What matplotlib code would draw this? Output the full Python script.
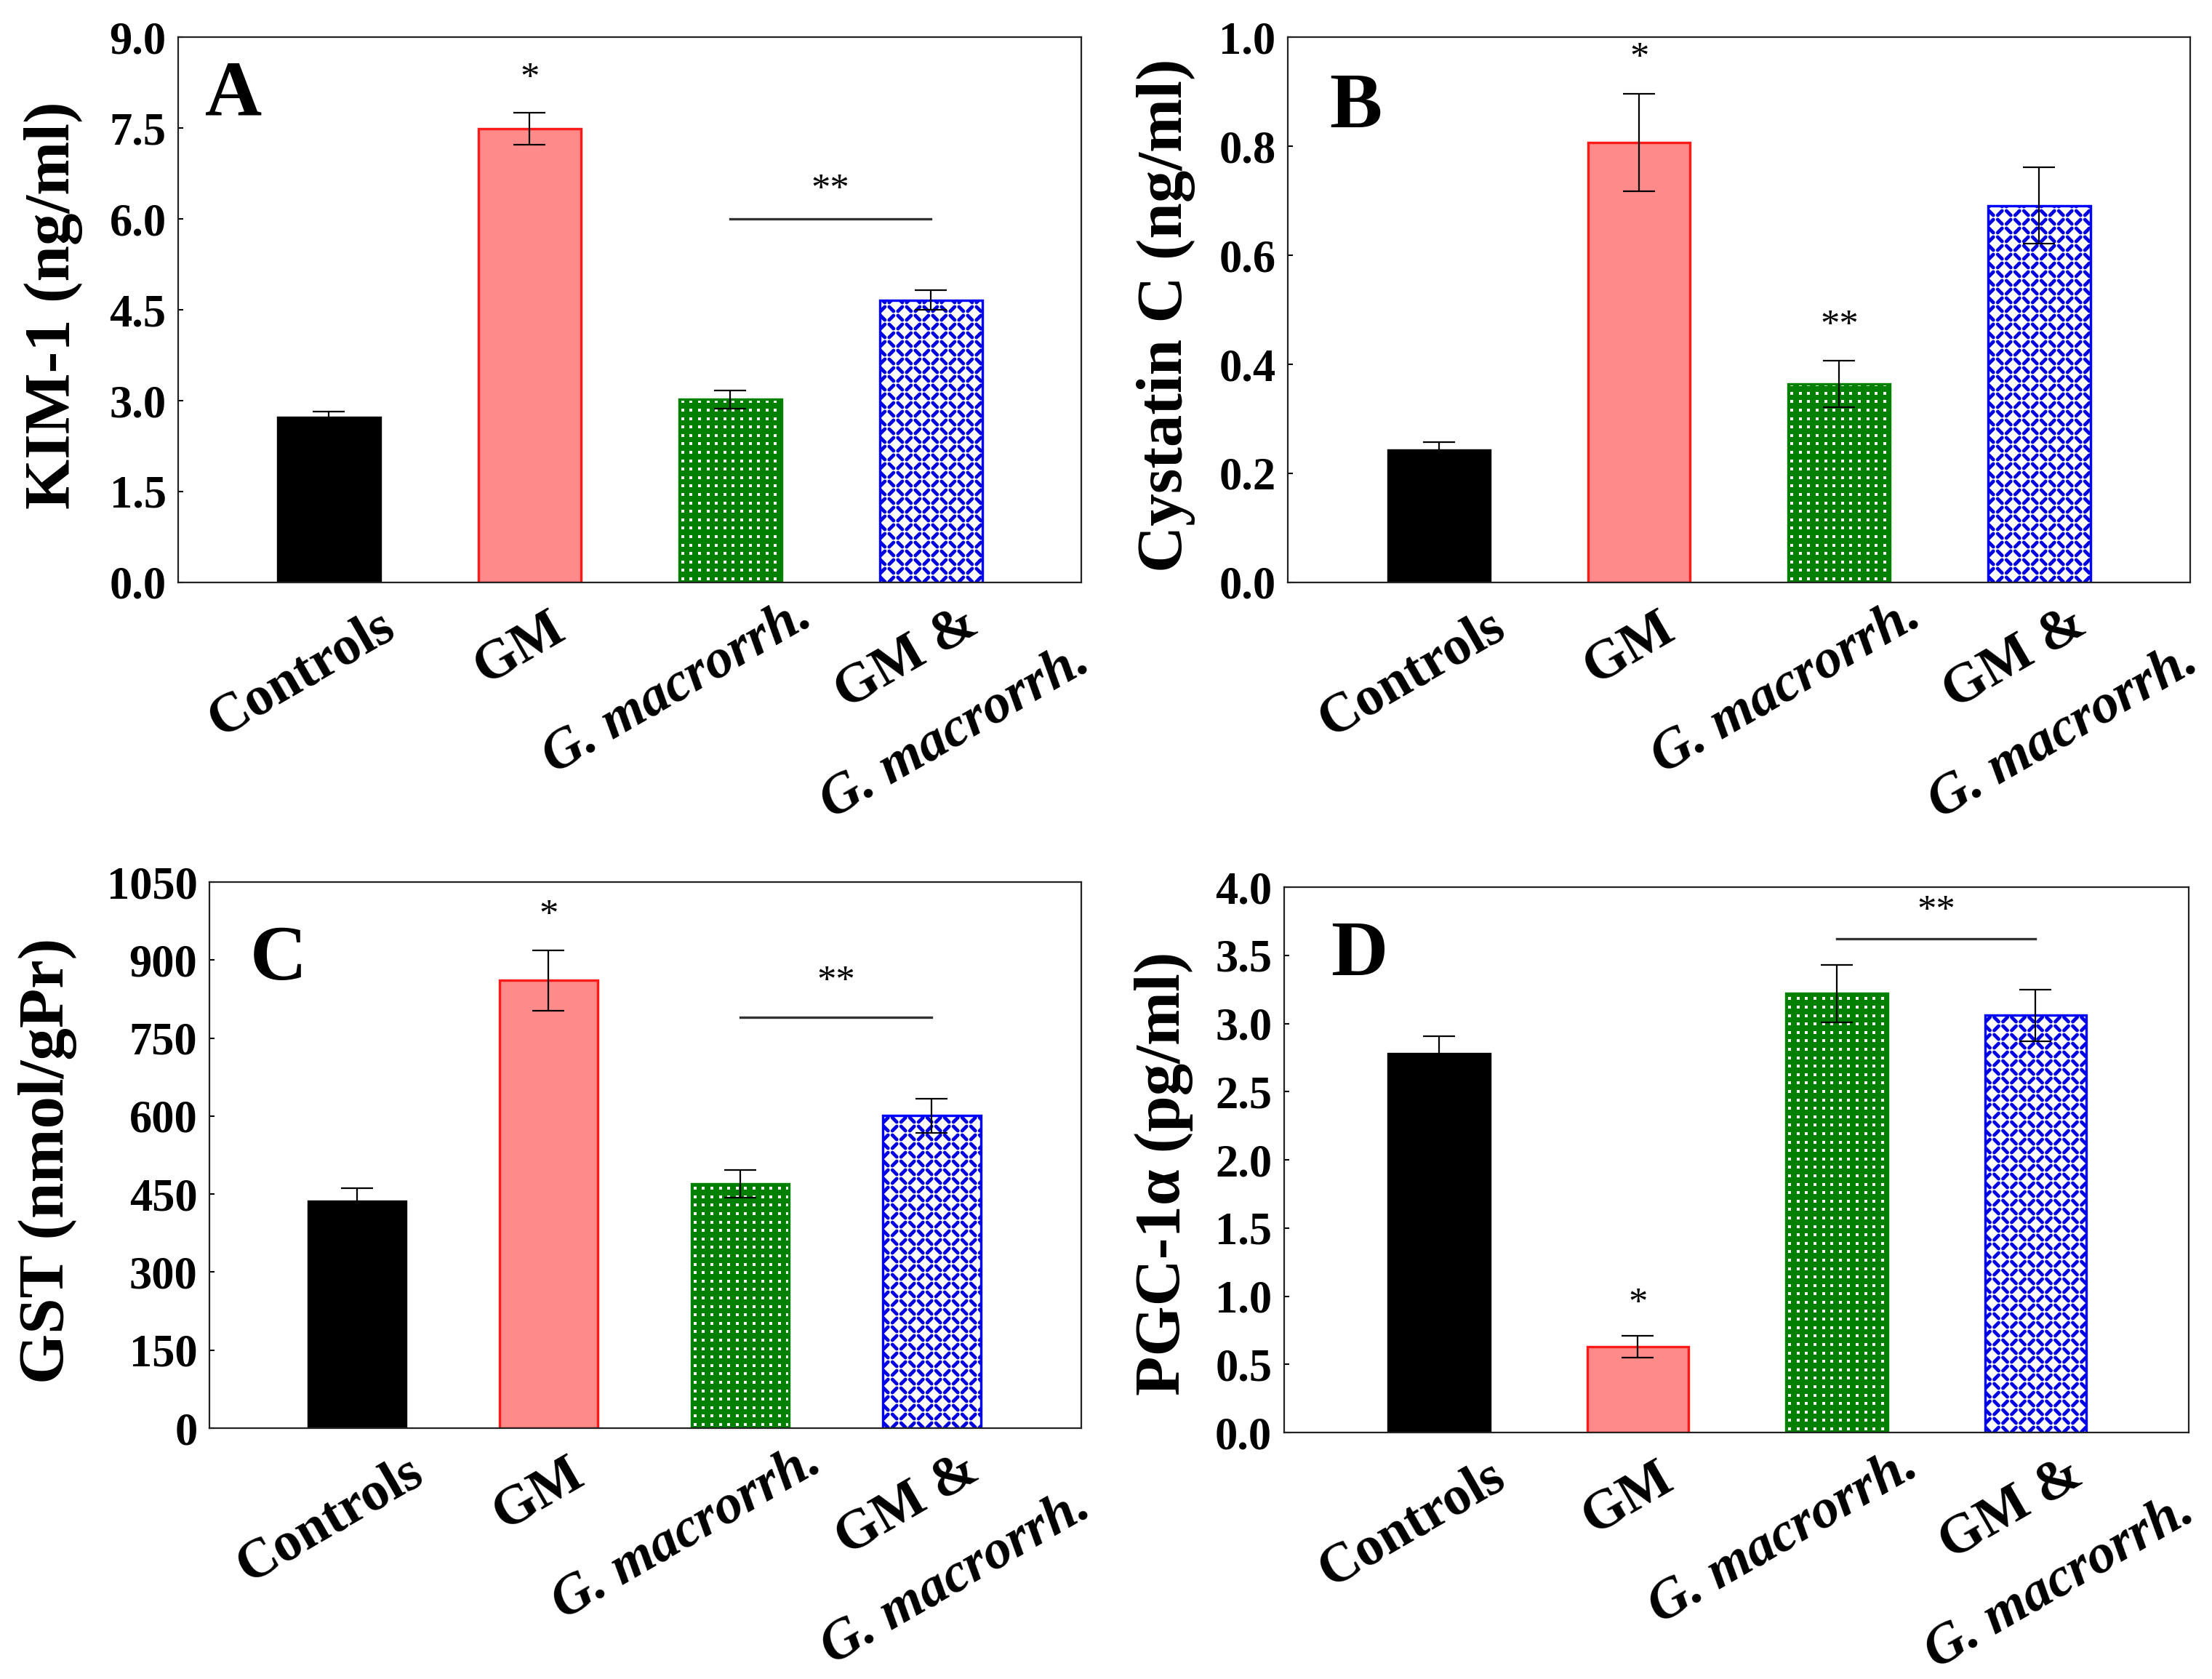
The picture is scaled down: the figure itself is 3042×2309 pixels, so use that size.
import numpy as np
import matplotlib
matplotlib.use("Agg")
import matplotlib.pyplot as plt
from matplotlib.collections import LineCollection
from matplotlib.transforms import ScaledTranslation, blended_transform_factory

plt.rcParams["font.family"] = ["Liberation Serif", "DejaVu Serif"]

# ---- data ----
groups = ["Controls", "GM", "G. macrorrh.", "GM &\nG. macrorrh."]

kim1 = [2.72, 7.49, 3.02, 4.66]
kim1_err = [0.10, 0.26, 0.15, 0.16]

cystatin = [0.243, 0.807, 0.364, 0.691]
cystatin_err = [0.015, 0.089, 0.043, 0.070]

gst = [437, 861, 470, 601]
gst_err = [24, 58, 27, 33]

pgc = [2.78, 0.63, 3.22, 3.06]
pgc_err = [0.125, 0.08, 0.21, 0.19]

# single stars: (bar index, y)
star_A = [(1, 8.3)]
star_B = [(1, 0.96)]
star_C = [(1, 985)]
star_D = [(1, 0.94)]
# double stars: (from bar, to bar, line y or None, text y)
dstar_A = [(2, 3, 6.0, 6.47)]
dstar_B = [(2, 2, None, 0.47)]
dstar_C = [(2, 3, 790, 857)]
dstar_D = [(2, 3, 3.62, 3.82)]

yticks_A = np.arange(0, 9.01, 1.5)
yticks_B = np.arange(0, 1.01, 0.2)
yticks_C = np.arange(0, 1051, 150)
yticks_D = np.arange(0, 4.01, 0.5)

# ---- styling ----
face = ["black", "#ff8a8a", "#008000", "white"]
edge = ["black", "#ff1a1a", "#008000", "#0000ff"]
texture_kind = [None, None, "dots", "weave"]

# label centre offsets below the axis, pixels (dx, dy)
label_off = [[(-37, 126)], [(-14, 91)], [(-73, 144)], [(-33, 105), (33, 206)]]

fig = plt.figure(figsize=(30.42, 23.09), dpi=100)


def add_texture(ax, bar, kind):
    x0, y0 = ax.transData.transform((bar.get_x(), 0))
    x1, y1 = ax.transData.transform((bar.get_x() + bar.get_width(), bar.get_height()))
    inv = ax.transData.inverted()
    if kind == "dots":
        step = 11.6
        xs = np.arange(x0 + 5, x1, step)
        ys = np.arange(y0 + 5, y1 + step, step)
        gx, gy = np.meshgrid(xs, ys)
        pts = inv.transform(np.column_stack([gx.ravel(), gy.ravel()]))
        sc = ax.scatter(pts[:, 0], pts[:, 1], s=12, marker="s", c="white",
                        linewidths=0, zorder=2.2)
        sc.set_clip_path(bar)
    elif kind == "weave":
        step = 12
        h = 3.0
        segs = []
        for i, xc in enumerate(np.arange(x0 + 4, x1 + step, step)):
            for j, yc in enumerate(np.arange(y0 + 4, y1 + step, step)):
                if (i + j) % 2 == 0:
                    p = [(xc - h, yc + h), (xc + h, yc - h)]
                else:
                    p = [(xc - h, yc - h), (xc + h, yc + h)]
                segs.append(inv.transform(p))
        lc = LineCollection(segs, colors="#0000e0", linewidths=3.5,
                            capstyle="round", zorder=2.2)
        ax.add_collection(lc)
        lc.set_clip_path(bar)


def panel(rect, values, errs, ylim, yticks, fmt, ylabel, ylab_xy, letter,
          letter_xy, stars, dstars, xlim):
    ax = fig.add_axes(rect)
    ax.set_xlim(*xlim)
    ax.set_ylim(*ylim)
    x = np.arange(len(values))
    bars = ax.bar(x, values, width=0.51, color=face, edgecolor=edge,
                  linewidth=2.2, zorder=2)
    for b, k in zip(bars, texture_kind):
        if k:
            add_texture(ax, b, k)
    # redraw outline on top of textures
    for b, ec in zip(bars, edge):
        ax.add_patch(plt.Rectangle((b.get_x(), 0), b.get_width(), b.get_height(),
                                   fill=False, edgecolor=ec, linewidth=2.4, zorder=2.5))
    ax.errorbar(x, values, yerr=errs, fmt="none", ecolor="black", elinewidth=1.6,
                capsize=15.5, capthick=1.6, zorder=3)

    ax.set_yticks(yticks)
    ax.set_yticklabels([fmt.format(v) for v in yticks])
    ax.set_xticks([])
    ax.tick_params(axis="y", direction="in", length=5, width=1.5, pad=12,
                   labelsize=45)
    for lab in ax.get_yticklabels():
        lab.set_fontweight("bold")
    for s in ax.spines.values():
        s.set_linewidth(1.6)
        s.set_color("#222222")

    ax.set_ylabel(ylabel, fontsize=64, fontweight="bold", va="center")
    ax.yaxis.set_label_coords(*ylab_xy)

    ax.text(letter_xy[0], letter_xy[1], letter, transform=ax.transAxes,
            fontsize=78, fontweight="bold", ha="center", va="center")

    for i, yv in stars:
        ax.text(i, yv, "*", fontsize=38, ha="center", va="center", zorder=4)
    for i0, i1, ly, ty in dstars:
        if ly is not None:
            ax.plot([i0, i1], [ly, ly], color="#333333", lw=2.4, zorder=4)
        ax.text((i0 + i1) / 2, ty, "**", fontsize=38, ha="center", va="center",
                zorder=4)

    # category labels
    trans = blended_transform_factory(ax.transData, ax.transAxes)
    for i, name in enumerate(groups):
        lines = name.split("\n")
        for line, (dx, dy) in zip(lines, label_off[i]):
            off = ScaledTranslation(dx / 100, -dy / 100, fig.dpi_scale_trans)
            style = "italic" if line.startswith("G.") else "normal"
            ax.text(i, 0, line, transform=trans + off, rotation=30,
                    rotation_mode="anchor", ha="center", va="center",
                    fontsize=55, fontweight="bold", fontstyle=style)
    return ax


panel([0.0806, 0.6531, 0.4083, 0.3248], kim1, kim1_err, (0, 9), yticks_A,
      "{:.1f}", "KIM-1 (ng/ml)", (-0.138, 0.509), "A", (0.061, 0.892),
      star_A, dstar_A, (-0.75, 3.75))
panel([0.5822, 0.6531, 0.4079, 0.3248], cystatin, cystatin_err, (0, 1.0), yticks_B,
      "{:.1f}", "Cystatin C (ng/ml)", (-0.135, 0.49), "B", (0.075, 0.87),
      star_B, dstar_B, (-0.756, 3.754))
panel([0.0947, 0.1494, 0.3941, 0.3252], gst, gst_err, (0, 1050), yticks_C,
      "{:.0f}", "GST (nmol/gPr)", (-0.186, 0.49), "C", (0.079, 0.857),
      star_C, dstar_C, (-0.77, 3.78))
panel([0.5805, 0.1468, 0.4089, 0.3248], pgc, pgc_err, (0, 4.0), yticks_D,
      "{:.1f}", "PGC-1α (pg/ml)", (-0.133, 0.475), "D", (0.083, 0.873),
      star_D, dstar_D, (-0.78, 3.77))

fig.savefig("out.png", dpi=100, facecolor="white")
